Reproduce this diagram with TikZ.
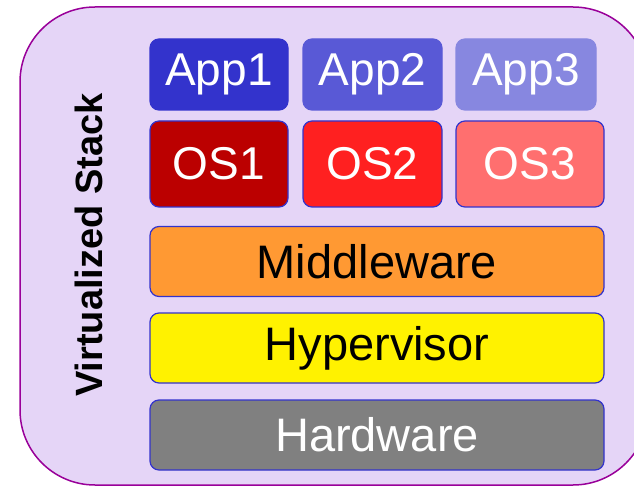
\documentclass[tikz,border=0pt]{standalone}
\usepackage{fontspec}
\setmainfont{Liberation Sans}
\usepackage{tikz}
\definecolor{stackfill}{HTML}{E5D5F7}
\definecolor{stackline}{HTML}{990099}
\definecolor{layerline}{HTML}{3333CC}
\definecolor{appone}{HTML}{3333CC}
\definecolor{apptwo}{HTML}{5959D6}
\definecolor{appthree}{HTML}{8787E0}
\definecolor{osone}{HTML}{BB0000}
\definecolor{ostwo}{HTML}{FF2020}
\definecolor{osthree}{HTML}{FF6F6F}
\definecolor{midfill}{HTML}{FF9933}
\definecolor{hwfill}{HTML}{808080}
\tikzset{
    layer/.style={draw=layerline, line width=1.2pt, rounded corners=9pt, inner sep=0pt,
        font=\fontsize{46}{52}\selectfont},
    appbox/.style={layer, draw=#1, fill=#1, text=white, minimum height=71pt},
    osbox/.style={layer, fill=#1, text=white, minimum height=86pt},
    basebox/.style={layer, fill=#1, minimum width=454pt, minimum height=70pt,
        font=\fontsize{47}{54}\selectfont}}

\begin{document}
\begin{tikzpicture}[x=1pt, y=-1pt]

        \useasboundingbox (0,0) rectangle (634,486);
        \begin{scope}
            \clip (0,0) rectangle (634,486);
            \draw[stackline, fill=stackfill, line width=1.5pt, rounded corners=75pt] (20,7) rectangle (648,485);
        \end{scope}

        \node[rotate=90, font=\bfseries\fontsize{38}{44}\selectfont] (stack) at (89,245) {Virtualized Stack};

        \node[appbox=appone, minimum width=138pt] (app1) at (219,74.5) {App1};
        \node[appbox=apptwo, minimum width=139pt] (app2) at (372.5,74.5) {App2};
        \node[appbox=appthree, minimum width=140pt] (app3) at (526,74.5) {App3};

        \node[osbox=osone, minimum width=138pt] (os1) at (219,164) {OS1};
        \node[osbox=ostwo, minimum width=139pt] (os2) at (372.5,164) {OS2};
        \node[osbox=osthree, minimum width=148pt] (os3) at (530,164) {OS3};

        \node[basebox=midfill] (middleware) at (377,261.5) {Middleware};
        \node[basebox=yellow] (hypervisor) at (377,348) {Hypervisor};
        \node[basebox=hwfill, text=white] (hardware) at (377,435) {Hardware};

\end{tikzpicture}
\end{document}
